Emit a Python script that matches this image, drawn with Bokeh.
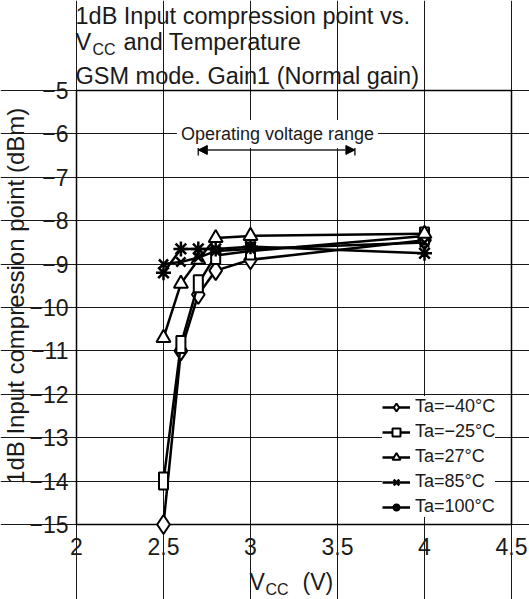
import math
from bokeh.plotting import figure
from bokeh.models import (Label, Legend, LegendItem, FixedTicker, Arrow, NormalHead,
                          Range1d, BoxAnnotation)
from bokeh.embed import file_html
from bokeh.resources import INLINE

# ---------------- data ----------------
vcc = [2.5, 2.6, 2.7, 2.8, 3.0, 4.0]
ta_m40 = [-15.0, -11.0, -9.7, -9.15, -8.9, -8.45]
ta_m25 = [-14.0, -10.85, -9.45, -8.8, -8.7, -8.35]
ta_27 = [-10.7, -9.45, -8.9, -8.4, -8.35, -8.3]
ta_85 = [-9.0, -8.95, -8.85, -8.7, -8.65, -8.5]
ta_100 = [-9.2, -8.65, -8.65, -8.65, -8.6, -8.75]
series_labels = ["Ta=\u221240\u00b0C", "Ta=\u221225\u00b0C", "Ta=27\u00b0C", "Ta=85\u00b0C", "Ta=100\u00b0C"]

x_ticks = [2, 2.5, 3, 3.5, 4, 4.5]
x_tick_labels = ["2", "2.5", "3", "3.5", "4", "4.5"]
y_ticks = [-5, -6, -7, -8, -9, -10, -11, -12, -13, -14, -15]
y_tick_labels = ["\u22125", "\u22126", "\u22127", "\u22128", "\u22129", "\u221210",
                 "\u221211", "\u221212", "\u221213", "\u221214", "\u221215"]

op_range = [2.7, 3.6]

FONT = "Liberation Sans"
TXT = "#1a1a1a"
W, H = 529, 599
FL, FR, FT, FB = 76, 511, 90, 524   # plot-area edges in px
XMIN, XMAX, YMIN, YMAX = 2.0, 4.5, -15.0, -5.0

def px2x(px):
    return XMIN + (px - FL) * (XMAX - XMIN) / (FR - FL)

def px2y(py):
    return YMAX - (py - FT) * (YMAX - YMIN) / (FB - FT)

# frame spans the whole canvas; the plot area is a box inside it
p = figure(width=W, height=H, output_backend="svg", toolbar_location=None,
           x_range=Range1d(px2x(0), px2x(W)), y_range=Range1d(px2y(H), px2y(0)),
           min_border=0)
p.background_fill_color = "white"
p.border_fill_color = "white"
p.outline_line_color = None

p.xaxis.fixed_location = YMIN
p.yaxis.fixed_location = XMIN
for ax in (p.xaxis[0], p.yaxis[0]):
    ax.axis_line_color = None
    ax.major_tick_line_color = None
    ax.minor_tick_line_color = None
    ax.major_tick_out = 0
    ax.major_tick_in = 0
    ax.minor_tick_out = 0
    ax.minor_tick_in = 0
    ax.major_label_text_font = FONT
    ax.major_label_text_font_size = "23px"
    ax.major_label_text_color = TXT

p.xaxis.ticker = FixedTicker(ticks=x_ticks)
p.xaxis.major_label_overrides = {t: l for t, l in zip(x_ticks, x_tick_labels)}
p.xaxis.major_label_standoff = 13
p.yaxis.ticker = FixedTicker(ticks=y_ticks)
p.yaxis.major_label_overrides = {t: l for t, l in zip(y_ticks, y_tick_labels)}
p.yaxis.major_label_standoff = 8

p.xgrid.bounds = (YMIN, YMAX)
p.ygrid.bounds = (XMIN, XMAX)
for g in (p.xgrid[0], p.ygrid[0]):
    g.grid_line_color = "black"
    g.grid_line_width = 1
    g.grid_line_alpha = 0.9

LW = 2.5
items = []

# -40 : diamonds
r1l = p.line(vcc, ta_m40, line_color="black", line_width=LW)
r1m = p.scatter(vcc, ta_m40, marker="diamond", size=19, fill_color="white",
                line_color="black", line_width=2)
items.append(LegendItem(label=series_labels[0], renderers=[r1l, r1m]))

# -25 : tall squares
r2l = p.line(vcc, ta_m25, line_color="black", line_width=LW)
r2m = p.scatter(vcc, ta_m25, marker="square", size=8, fill_color="white",
                line_color="black", line_width=2)
p.rect(vcc, ta_m25, width=9, height=17, width_units="screen", height_units="screen",
       fill_color="white", line_color="black", line_width=2)
items.append(LegendItem(label=series_labels[1], renderers=[r2l, r2m]))

# 27 : triangles
r3l = p.line(vcc, ta_27, line_color="black", line_width=LW)
r3m = p.scatter(vcc, ta_27, marker="triangle", size=14, fill_color="white",
                line_color="black", line_width=2)
items.append(LegendItem(label=series_labels[2], renderers=[r3l, r3m]))

# 85 : x
r4l = p.line(vcc, ta_85, line_color="black", line_width=LW)
r4m = p.scatter(vcc, ta_85, marker="x", size=13, line_color="black", line_width=2.5)
items.append(LegendItem(label=series_labels[3], renderers=[r4l, r4m]))

# 100 : asterisk
r5l = p.line(vcc, ta_100, line_color="black", line_width=LW)
r5m = p.scatter(vcc, ta_100, marker="asterisk", size=15, line_color="black", line_width=2.5)
items.append(LegendItem(label=series_labels[4], renderers=[r5l, r5m]))

# plot-area border
p.add_layout(BoxAnnotation(left=XMIN, right=XMAX, bottom=YMIN, top=YMAX,
                           fill_color=None, fill_alpha=0, line_color="black",
                           line_width=1.5, line_alpha=1.0, level="underlay"))

legend = Legend(items=items, location=(382, H - 517), orientation="vertical",
                label_text_font=FONT, label_text_font_size="18px", label_text_color=TXT,
                label_height=20, glyph_height=20, glyph_width=28, spacing=4,
                padding=7, margin=0, label_standoff=5,
                border_line_color=None, background_fill_color="white",
                background_fill_alpha=1.0)
p.add_layout(legend, "center")

# Operating voltage range annotation
p.add_layout(Label(x=px2x(277), y=-6.0, text="Operating voltage range",
                   text_align="center", text_baseline="middle",
                   text_font=FONT, text_font_size="18px", text_color=TXT,
                   background_fill_color="white", padding=4))
arr_y = -6.37
p.add_layout(Arrow(x_start=op_range[0], y_start=arr_y, x_end=op_range[1], y_end=arr_y,
                   line_color="#222222", line_width=1.5,
                   start=NormalHead(size=9, fill_color="black", line_color="black"),
                   end=NormalHead(size=9, fill_color="black", line_color="black")))
p.segment(x0=op_range, y0=[-6.22, -6.22], x1=op_range, y1=[-6.5, -6.5],
          line_color="#222222", line_width=1.5)

def lbl(px, py, text, size=23.5, align="left", angle=0.0, baseline="alphabetic"):
    # Bokeh places the alphabetic baseline ~0.3em lower than requested; compensate
    shift = 0.3 * size if baseline == "alphabetic" else 0.0
    p.add_layout(Label(x=px2x(px), y=px2y(py - shift), text=text, text_font=FONT,
                       text_font_size=f"{size}px", text_color=TXT, text_align=align,
                       text_baseline=baseline, angle=angle))

# Title (three lines, with subscript)
lbl(75, 23, "1dB Input compression point vs.")
lbl(75, 49, "V")
lbl(92, 54, "CC", size=16)
lbl(123, 49, "and Temperature")
lbl(75, 83, "GSM mode. Gain1 (Normal gain)")

# X axis label
lbl(249, 588, "V", size=23)
lbl(265, 594, "CC", size=16)
lbl(302, 588, "(V)", size=23)

# Y axis label
lbl(15, 292, "1dB Input compression point  (dBm)", size=24, align="center",
    angle=math.pi / 2, baseline="middle")

open("out.html", "w").write(file_html(p, INLINE))
